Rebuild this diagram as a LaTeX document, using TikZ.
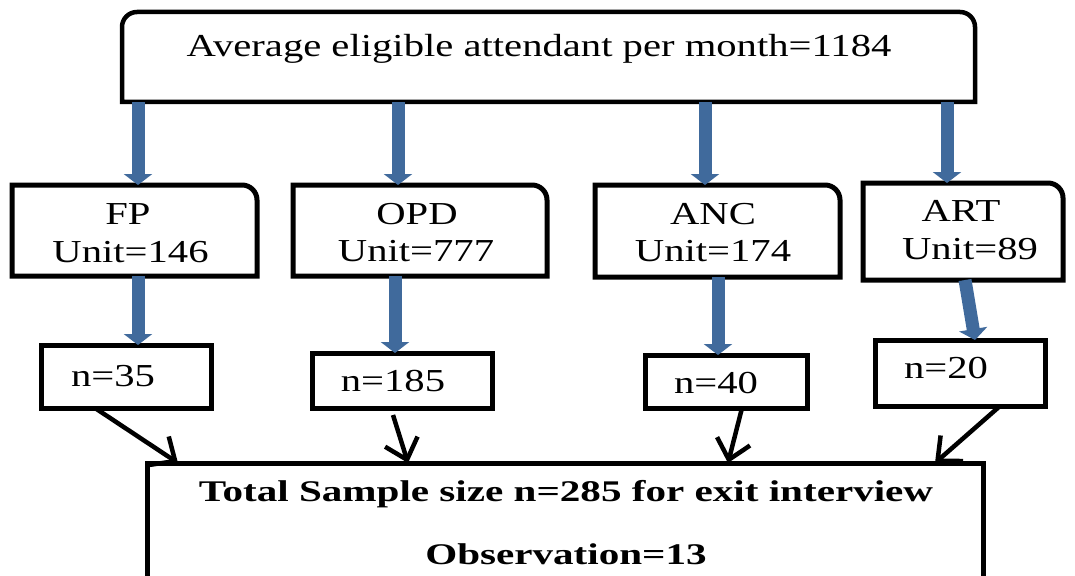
\documentclass[tikz,border=0pt]{standalone}
\usepackage{fontspec}
\setmainfont{Liberation Serif}
\usetikzlibrary{arrows.meta,calc}
\definecolor{arrowblue}{RGB}{64,106,156}
\newcommand\sxr[1]{\scalebox{1.27}[1]{#1}}
\newcommand\sxb[1]{\scalebox{1.37}[1]{\bfseries #1}}
\begin{document}
\begin{tikzpicture}[x=1pt,y=-1pt,
  shell/.style={inner sep=0pt, outer sep=0pt},
  boxline/.style={line width=5pt, line join=miter},
  plainbox/.style={draw, line width=5pt, inner sep=0pt, outer sep=0pt},
  txt/.style={anchor=base, inner sep=0pt, font=\fontsize{32}{38}\selectfont},
  btxt/.style={anchor=base, inner sep=0pt, font=\fontsize{30}{36}\selectfont},
  bluearrow/.style={draw=arrowblue, line width=13pt, -{Triangle[length=11pt,width=28pt]}},
  blackarrow/.style={draw=black, line width=4.5pt, -{Straight Barb[length=19pt,width=34pt]}}]
\useasboundingbox (0,0) rectangle (1075,575);
\clip (0,0) rectangle (1075,575);
\fill[white] (0,0) rectangle (1075,575);

% top box (top corners rounded)
\node[shell, minimum width=853pt, minimum height=90pt] (top) at (548.5,57) {};
\draw[boxline, line width=4.5pt] (top.south west) -- ([yshift=-15pt]top.north west)
  arc[start angle=180, end angle=90, radius=15pt] -- ([xshift=-15pt]top.north east)
  arc[start angle=90, end angle=0, radius=15pt] -- (top.south east) -- cycle;
\node[txt] (toptext) at (539,57) {\sxr{Average eligible attendant per month=1184}};

% unit boxes (top-right corner rounded)
\node[shell, minimum width=245pt, minimum height=91pt] (fp)  at (134.5,230.5) {};
\node[shell, minimum width=254pt, minimum height=91pt] (opd) at (420,230.5) {};
\node[shell, minimum width=245pt, minimum height=92pt] (anc) at (717.5,231) {};
\node[shell, minimum width=200pt, minimum height=97pt] (art) at (963,231.5) {};
\foreach \u in {fp,opd,anc,art}{
  \draw[boxline] (\u.south west) -- (\u.north west) -- ([xshift=-15pt]\u.north east)
    arc[start angle=90, end angle=0, radius=15pt] -- (\u.south east) -- cycle;
}
\node[txt] (fpA)  at (128,224) {\sxr{FP}};
\node[txt] (fpB)  at (130.5,262) {\sxr{Unit=146}};
\node[txt] (opdA) at (417,224) {\sxr{OPD}};
\node[txt] (opdB) at (416,261) {\sxr{Unit=777}};
\node[txt] (ancA) at (713,224) {\sxr{ANC}};
\node[txt] (ancB) at (713,261) {\sxr{Unit=174}};
\node[txt] (artA) at (961,221) {\sxr{ART}};
\node[txt] (artB) at (970,259) {\sxr{Unit=89}};

% sample boxes
\node[plainbox, minimum width=170pt, minimum height=63pt] (n35)  at (126,376.5) {};
\node[plainbox, minimum width=180pt, minimum height=55pt] (n185) at (402,380.5) {};
\node[plainbox, minimum width=162pt, minimum height=53pt] (n40)  at (726,381.5) {};
\node[plainbox, minimum width=170pt, minimum height=66pt] (n20)  at (960,373) {};
\node[txt] (n35t)  at (113,386) {\sxr{n=35}};
\node[txt] (n185t) at (393,391) {\sxr{n=185}};
\node[txt] (n40t)  at (716,393) {\sxr{n=40}};
\node[txt] (n20t)  at (946,378) {\sxr{n=20}};

% total box
\node[plainbox, minimum width=836pt, minimum height=157pt] (total) at (565,541.5) {};
\node[btxt] (totA) at (566,501) {\sxb{Total Sample size n=285 for exit interview}};
\node[btxt] (totB) at (566,564) {\sxb{Observation=13}};

% blue arrows, row 1
\coordinate (c1) at ([xshift=3.5pt]fp.north);
\coordinate (c2) at ([xshift=-22pt]opd.north);
\coordinate (c3) at ([xshift=-12.5pt]anc.north);
\coordinate (c4) at ([xshift=-16pt]art.north);
\foreach \c in {c1,c2,c3,c4}{
  \draw[bluearrow] (top.south -| \c) -- (\c);
}
% blue arrows, row 2
\coordinate (d1) at ([xshift=3.5pt]fp.south);
\coordinate (d2) at ([xshift=-25pt]opd.south);
\coordinate (d3) at ([xshift=0.5pt]anc.south);
\draw[bluearrow] (d1) -- (n35.north -| d1);
\draw[bluearrow] (d2) -- (n185.north -| d2);
\draw[bluearrow] (d3) -- (n40.north -| d3);
\draw[bluearrow] ([xshift=2pt]art.south) -- ([xshift=15pt]n20.north);

% black arrows
\draw[blackarrow] ([xshift=-31pt]n35.south) -- ([xshift=31pt]total.north west);
\draw[blackarrow] ([xshift=-9pt,yshift=-7pt]n185.south) -- (total.north -| 408,0);
\draw[blackarrow] ([xshift=16pt]n40.south) -- (total.north -| 728,0);
\draw[blackarrow] ([xshift=40pt]n20.south) -- ([xshift=-48pt]total.north east);
\end{tikzpicture}
\end{document}
